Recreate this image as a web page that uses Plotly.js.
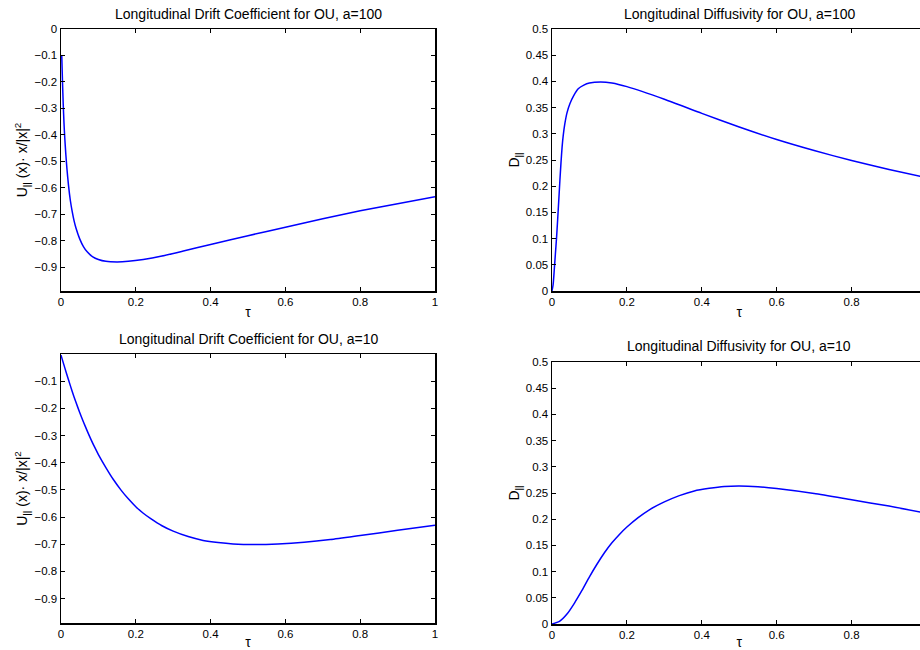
<!DOCTYPE html>
<html>
<head>
<meta charset="utf-8">
<script src="https://cdn.plot.ly/plotly-3.0.1.min.js"></script>
<style>
html, body { margin: 0; padding: 0; overflow: hidden; background: #fff; }
#chart { width: 930px; height: 650px; }
</style>
</head>
<body>
<div id="chart"></div>
<script>
// ---- Data ----
// Top-left: Longitudinal drift coefficient, a=100
const tauDrift100 = [0.002, 0.004, 0.006, 0.008, 0.010, 0.013, 0.016, 0.02, 0.025, 0.03, 0.035, 0.04, 0.05, 0.06, 0.07, 0.085, 0.1, 0.12, 0.15, 0.18, 0.22, 0.27, 0.33, 0.4, 0.5, 0.6, 0.7, 0.8, 0.9, 1.0];
const drift100    = [-0.10, -0.20, -0.285, -0.355, -0.41, -0.475, -0.53, -0.59, -0.648, -0.69, -0.725, -0.752, -0.793, -0.822, -0.842, -0.861, -0.871, -0.878, -0.88, -0.878, -0.871, -0.858, -0.838, -0.814, -0.781, -0.749, -0.717, -0.687, -0.66, -0.634];

// Top-right: Longitudinal diffusivity, a=100
const tauDiff100 = [0, 0.003, 0.006, 0.009, 0.012, 0.015, 0.018, 0.021, 0.024, 0.027, 0.03, 0.034, 0.04, 0.048, 0.058, 0.07, 0.085, 0.1, 0.13, 0.16, 0.2, 0.3, 0.4, 0.5, 0.6, 0.7, 0.8, 0.9, 0.983];
const diff100    = [0, 0.012, 0.04, 0.07, 0.10, 0.135, 0.172, 0.21, 0.245, 0.275, 0.297, 0.318, 0.34, 0.358, 0.373, 0.386, 0.393, 0.397, 0.399, 0.397, 0.39, 0.366, 0.339, 0.313, 0.289, 0.268, 0.249, 0.232, 0.219];

// Bottom-left: Longitudinal drift coefficient, a=10
const tauDrift10 = [0, 0.01, 0.02, 0.03, 0.04, 0.05, 0.06, 0.07, 0.08, 0.09, 0.10, 0.12, 0.14, 0.16, 0.18, 0.20, 0.22, 0.24, 0.27, 0.30, 0.34, 0.38, 0.42, 0.46, 0.52, 0.58, 0.65, 0.72, 0.8, 0.9, 1.0];
const drift10    = [-0.004, -0.05, -0.095, -0.138, -0.178, -0.215, -0.25, -0.283, -0.314, -0.343, -0.37, -0.418, -0.462, -0.50, -0.533, -0.562, -0.586, -0.606, -0.632, -0.652, -0.672, -0.686, -0.694, -0.699, -0.701, -0.699, -0.693, -0.683, -0.668, -0.649, -0.63];

// Bottom-right: Longitudinal diffusivity, a=10
const tauDiff10 = [0, 0.02, 0.04, 0.06, 0.08, 0.1, 0.12, 0.14, 0.16, 0.18, 0.2, 0.23, 0.26, 0.3, 0.34, 0.38, 0.42, 0.46, 0.5, 0.55, 0.6, 0.7, 0.8, 0.9, 0.983];
const diff10    = [0, 0.005, 0.019, 0.04, 0.064, 0.09, 0.114, 0.136, 0.155, 0.171, 0.185, 0.203, 0.218, 0.233, 0.245, 0.254, 0.259, 0.2625, 0.2635, 0.262, 0.2585, 0.249, 0.237, 0.225, 0.2135];

// Tick labels
const xTickValsL = [0, 0.2, 0.4, 0.6, 0.8, 1];
const xTickTextL = ['0', '0.2', '0.4', '0.6', '0.8', '1'];
const xTickValsR = [0, 0.2, 0.4, 0.6, 0.8];
const xTickTextR = ['0', '0.2', '0.4', '0.6', '0.8'];
const driftTickVals = [0, -0.1, -0.2, -0.3, -0.4, -0.5, -0.6, -0.7, -0.8, -0.9];
const driftTickText = ['0', '\u22120.1', '\u22120.2', '\u22120.3', '\u22120.4', '\u22120.5', '\u22120.6', '\u22120.7', '\u22120.8', '\u22120.9'];
const driftTickVals10 = [-0.1, -0.2, -0.3, -0.4, -0.5, -0.6, -0.7, -0.8, -0.9];
const driftTickText10 = ['\u22120.1', '\u22120.2', '\u22120.3', '\u22120.4', '\u22120.5', '\u22120.6', '\u22120.7', '\u22120.8', '\u22120.9'];
const diffTickVals = [0, 0.05, 0.1, 0.15, 0.2, 0.25, 0.3, 0.35, 0.4, 0.45, 0.5];
const diffTickText = ['0', '0.05', '0.1', '0.15', '0.2', '0.25', '0.3', '0.35', '0.4', '0.45', '0.5'];

const titles = [
  'Longitudinal Drift Coefficient for OU, a=100',
  'Longitudinal Diffusivity for OU, a=100',
  'Longitudinal Drift Coefficient for OU, a=10',
  'Longitudinal Diffusivity for OU, a=10'
];
const driftLabel = 'U<sub>||</sub> (x)\u00b7 x/|x|<sup>2</sup>';
const diffLabel = 'D<sub>||</sub>';
const xLabel = '\u03c4';

// ---- Layout ----
const W = 930, H = 650;
const FONT = '"Liberation Sans", Arial, Helvetica, sans-serif';
const TICK = 11.5, TITLE = 14, AXT = 14;
const lineStyle = { color: 'rgb(0,0,255)', width: 1.5, shape: 'spline', smoothing: 0.6 };

function px(a, b) { return [a / W, b / W]; }
function py(top, bottom) { return [1 - bottom / H, 1 - top / H]; }

function xAxis(domain, anchor, tv, tt) {
  return {
    domain: domain, anchor: anchor, range: [0, 1],
    tickvals: tv, ticktext: tt,
    ticks: 'inside', ticklen: 4, tickwidth: 1, tickcolor: '#000',
    showline: true, linecolor: '#000', linewidth: 1.5, mirror: 'ticks',
    showgrid: false, zeroline: false,
    tickfont: { family: FONT, size: TICK, color: '#000' },
    title: { text: xLabel, font: { family: FONT, size: AXT, color: '#000' }, standoff: 0 },
    automargin: false
  };
}
function yAxis(domain, anchor, range, tv, tt, label, standoff) {
  return {
    domain: domain, anchor: anchor, range: range,
    tickvals: tv, ticktext: tt,
    ticks: 'inside', ticklen: 4, tickwidth: 1, tickcolor: '#000',
    showline: true, linecolor: '#000', linewidth: 1.5, mirror: 'ticks',
    showgrid: false, zeroline: false,
    tickfont: { family: FONT, size: TICK, color: '#000' },
    title: { text: label, font: { family: FONT, size: AXT, color: '#000' }, standoff: standoff },
    automargin: false
  };
}

const traces = [
  { x: tauDrift100, y: drift100, xaxis: 'x', yaxis: 'y', mode: 'lines', line: lineStyle },
  { x: tauDiff100, y: diff100, xaxis: 'x2', yaxis: 'y2', mode: 'lines', line: lineStyle },
  { x: tauDrift10, y: drift10, xaxis: 'x3', yaxis: 'y3', mode: 'lines', line: lineStyle },
  { x: tauDiff10, y: diff10, xaxis: 'x4', yaxis: 'y4', mode: 'lines', line: lineStyle }
];

const dxL = px(61, 435), dxR = px(552, 926.5);
const dyT = py(29, 291), dyBL = py(354, 623), dyBR = py(362, 624);

function titleAnn(text, cx, cy) {
  return { text: text, x: cx / W, y: 1 - cy / H, xref: 'paper', yref: 'paper', xanchor: 'center', yanchor: 'middle',
           showarrow: false, font: { family: FONT, size: TITLE, color: '#000' } };
}

const layout = {
  width: W, height: H,
  margin: { l: 0, r: 0, t: 0, b: 0 },
  paper_bgcolor: '#fff', plot_bgcolor: '#fff',
  showlegend: false,
  font: { family: FONT, color: '#000' },
  xaxis: xAxis(dxL, 'y', xTickValsL, xTickTextL),
  yaxis: yAxis(dyT, 'x', [-0.99, 0], driftTickVals, driftTickText, driftLabel, 3),
  xaxis2: xAxis(dxR, 'y2', xTickValsR, xTickTextR),
  yaxis2: yAxis(dyT, 'x2', [0, 0.5], diffTickVals, diffTickText, diffLabel, 3),
  xaxis3: xAxis(dxL, 'y3', xTickValsL, xTickTextL),
  yaxis3: yAxis(dyBL, 'x3', [-0.99, 0], driftTickVals10, driftTickText10, driftLabel, 3),
  xaxis4: xAxis(dxR, 'y4', xTickValsR, xTickTextR),
  yaxis4: yAxis(dyBR, 'x4', [0, 0.5], diffTickVals, diffTickText, diffLabel, 3),
  annotations: [
    titleAnn(titles[0], 248, 14),
    titleAnn(titles[1], 739, 14),
    titleAnn(titles[2], 248, 339),
    titleAnn(titles[3], 739, 346)
  ]
};

Plotly.newPlot('chart', traces, layout, { staticPlot: true, displayModeBar: false, responsive: false });
</script>
</body>
</html>
